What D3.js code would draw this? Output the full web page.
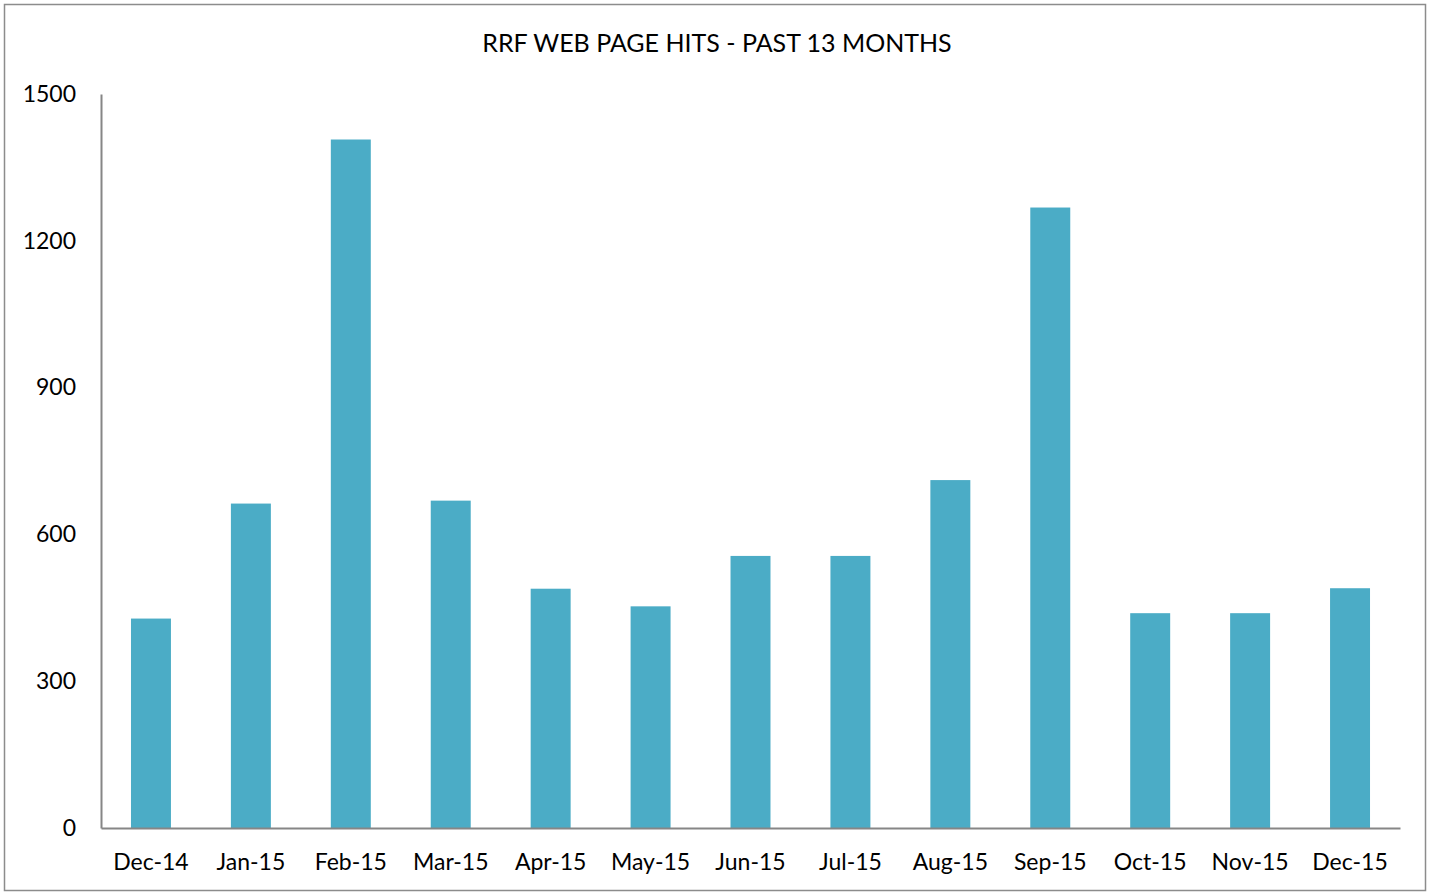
<!DOCTYPE html>
<html>
<head>
<meta charset="utf-8">
<script src="https://cdn.jsdelivr.net/npm/d3@7"></script>
<style>
  body { margin: 0; background: #fff; }
  svg text { font-family: Lato, "Open Sans", sans-serif; fill: #000; }
</style>
</head>
<body>
<div id="wrapper"></div>
<script>
const months = ['Dec-14', 'Jan-15', 'Feb-15', 'Mar-15', 'Apr-15', 'May-15', 'Jun-15',
  'Jul-15', 'Aug-15', 'Sep-15', 'Oct-15', 'Nov-15', 'Dec-15']
const hits = [428, 663, 1407, 669, 489, 453, 556, 556, 711, 1268, 439, 439, 490]
const yTicks = [0, 300, 600, 900, 1200, 1500]
const chartTitle = 'RRF WEB PAGE HITS - PAST 13 MONTHS'

function drawChart() {
  const dimensions = {
    width: 1429,
    height: 893,
    margin: { top: 94, right: 29, bottom: 65, left: 101 }
  }
  dimensions.boundedWidth = dimensions.width - dimensions.margin.left - dimensions.margin.right
  dimensions.boundedHeight = dimensions.height - dimensions.margin.top - dimensions.margin.bottom

  const xScale = d3.scaleBand()
    .domain(months)
    .range([0, dimensions.boundedWidth])
    .paddingInner(0.6)
    .paddingOuter(0.3)

  const yScale = d3.scaleLinear()
    .domain([0, 1500])
    .range([dimensions.boundedHeight, 0])

  const wrapper = d3.select('#wrapper')
    .append('svg')
    .attr('width', dimensions.width)
    .attr('height', dimensions.height)

  // outer frame
  wrapper.append('rect')
    .attr('x', 4.5)
    .attr('y', 4.5)
    .attr('width', 1421)
    .attr('height', 886)
    .attr('fill', 'none')
    .attr('stroke', '#8c8c8c')
    .attr('stroke-width', 1.5)

  wrapper.append('text')
    .attr('x', 717)
    .attr('y', 52)
    .attr('text-anchor', 'middle')
    .attr('font-size', 25)
    .text(chartTitle)

  const bounds = wrapper.append('g')
    .attr('transform', `translate(${dimensions.margin.left} ${dimensions.margin.top})`)

  bounds.append('g')
    .selectAll('rect')
    .data(hits)
    .join('rect')
    .attr('x', (d, i) => xScale(months[i]))
    .attr('y', d => yScale(d))
    .attr('width', xScale.bandwidth())
    .attr('height', d => yScale(0) - yScale(d))
    .attr('fill', '#4bacc6')

  const yAxis = d3.axisLeft(yScale)
    .tickValues(yTicks)
    .tickFormat(d3.format('d'))
    .tickSize(0)
    .tickPadding(25)
  const yAxisGroup = bounds.append('g').call(yAxis)
  yAxisGroup.select('.domain').attr('stroke', '#868686').attr('stroke-width', 2)
  yAxisGroup.selectAll('text')
    .attr('font-size', 23)
    .attr('font-family', 'Lato, sans-serif')
    .attr('fill', '#000')

  const xAxis = d3.axisBottom(xScale)
    .tickSize(0)
    .tickPadding(26)
  const xAxisGroup = bounds.append('g')
    .attr('transform', `translate(0 ${dimensions.boundedHeight})`)
    .call(xAxis)
  xAxisGroup.select('.domain').attr('stroke', '#868686').attr('stroke-width', 2)
  xAxisGroup.selectAll('text')
    .attr('font-size', 23)
    .attr('font-family', 'Lato, sans-serif')
    .attr('fill', '#000')
}

drawChart()
</script>
</body>
</html>
